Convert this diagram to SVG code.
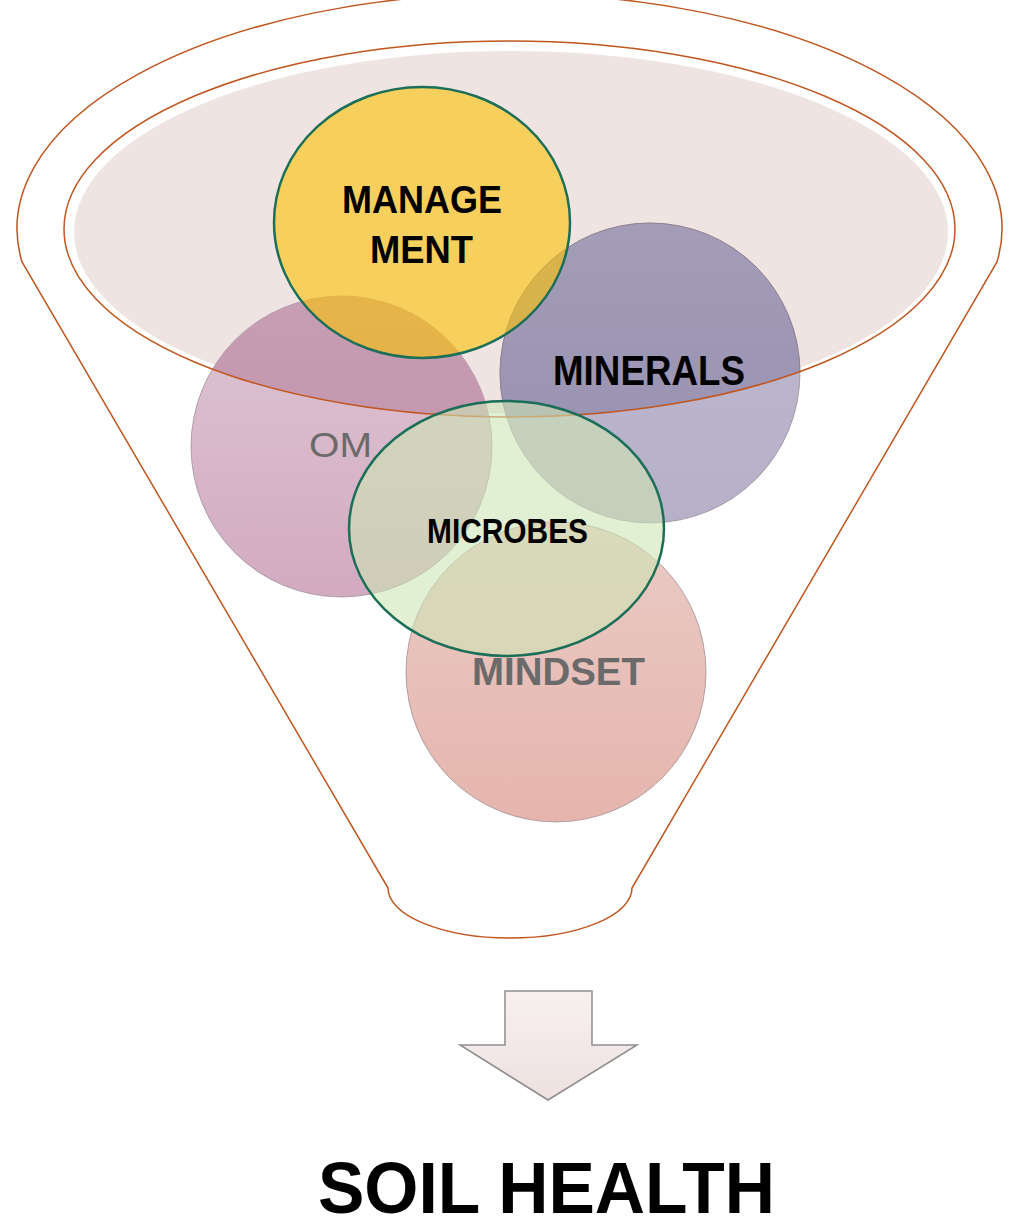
<svg xmlns="http://www.w3.org/2000/svg" width="1011" height="1230" viewBox="0 0 1011 1230">
  <style>
    .outline { fill: none; stroke: #c1561f; stroke-width: 1.5; }
    .soft { stroke: #7d6d78; stroke-opacity: 0.55; stroke-width: 1; }
    .ring { stroke: #1b6e57; stroke-width: 2.5; }
    .lbl { font-family: "Liberation Sans", Arial, sans-serif; text-anchor: middle; }
    .b { font-weight: bold; fill: #000; }
    .grey { fill: #6a6a6a; }
  </style>
  <defs>
    <!-- rim of the funnel mouth, used to tint the parts of the discs that sit inside it -->
    <clipPath id="mouth">
      <ellipse cx="509.5" cy="229" rx="445.5" ry="188"/>
    </clipPath>
    <linearGradient id="omOut" x1="0" y1="0" x2="0" y2="1">
      <stop offset="0" stop-color="#ddc6d3"/>
      <stop offset="1" stop-color="#d3aac0"/>
    </linearGradient>
    <linearGradient id="omIn" x1="0" y1="0" x2="0" y2="1">
      <stop offset="0" stop-color="#c79eb3"/>
      <stop offset="1" stop-color="#bf8ea6"/>
    </linearGradient>
    <linearGradient id="minOut" x1="0" y1="0" x2="0" y2="1">
      <stop offset="0" stop-color="#bfbad0"/>
      <stop offset="1" stop-color="#b6b0c8"/>
    </linearGradient>
    <linearGradient id="minIn" x1="0" y1="0" x2="0" y2="1">
      <stop offset="0" stop-color="#a49db8"/>
      <stop offset="1" stop-color="#958eaf"/>
    </linearGradient>
    <linearGradient id="mindFill" x1="0" y1="0" x2="0" y2="1">
      <stop offset="0" stop-color="#eacbc5"/>
      <stop offset="1" stop-color="#e5b5ad"/>
    </linearGradient>
    <linearGradient id="arrowFill" x1="0" y1="0" x2="0" y2="1">
      <stop offset="0" stop-color="#f8f0f0"/>
      <stop offset="1" stop-color="#eee1e0"/>
    </linearGradient>
  </defs>

  <!-- funnel body -->
  <g id="funnel">
    <ellipse cx="511" cy="232" rx="437" ry="181" fill="#f0e4e3"/>
  </g>

  <!-- discs behind the funnel rim -->
  <g id="node-om">
    <circle cx="341.5" cy="446.5" r="150.5" fill="url(#omOut)" class="soft"/>
    <circle cx="341.5" cy="446.5" r="150.5" fill="url(#omIn)" clip-path="url(#mouth)"/>
  </g>
  <g id="node-minerals">
    <circle cx="650" cy="373" r="150" fill="url(#minOut)" class="soft"/>
    <circle cx="650" cy="373" r="150" fill="url(#minIn)" class="soft" clip-path="url(#mouth)"/>
  </g>
  <g id="node-mindset">
    <circle cx="556" cy="672" r="150" fill="url(#mindFill)" class="soft"/>
  </g>

  <!-- funnel outlines -->
  <g id="funnel-outline">
    <ellipse cx="509.5" cy="229" rx="445.5" ry="188" class="outline"/>
    <path class="outline" d="M 388 888 L 22 262 A 492.5 235 0 1 1 997 262 L 632 888 A 122 50 0 0 1 388 888 Z"/>
  </g>

  <!-- translucent discs in front -->
  <g id="node-management">
    <ellipse cx="422" cy="222.5" rx="148" ry="135.5" fill="#fac10a" fill-opacity="0.62" class="ring"/>
  </g>
  <g id="node-microbes">
    <ellipse cx="506.5" cy="528.5" rx="157.5" ry="127.5" fill="#cde4b4" fill-opacity="0.6" class="ring"/>
  </g>

  <!-- labels -->
  <g id="labels">
    <text class="lbl b" x="422" y="213" font-size="39" textLength="160" lengthAdjust="spacingAndGlyphs">MANAGE</text>
    <text class="lbl b" x="421.5" y="263" font-size="39" textLength="103" lengthAdjust="spacingAndGlyphs">MENT</text>
    <text class="lbl b" x="649" y="385" font-size="42" textLength="192" lengthAdjust="spacingAndGlyphs">MINERALS</text>
    <text class="lbl grey" x="340.5" y="457" font-size="35" textLength="63" lengthAdjust="spacingAndGlyphs">OM</text>
    <text class="lbl b" x="507.5" y="543" font-size="35" textLength="161" lengthAdjust="spacingAndGlyphs">MICROBES</text>
    <text class="lbl grey" x="558.5" y="685" font-size="39" font-weight="bold" textLength="173" lengthAdjust="spacingAndGlyphs">MINDSET</text>
  </g>

  <!-- downward block arrow -->
  <g id="connectors">
    <path d="M 505 991 L 592 991 L 592 1045 L 637 1045 L 548 1100 L 460 1045 L 505 1045 Z" fill="url(#arrowFill)" stroke="#8e8e8e" stroke-width="1.5" stroke-linejoin="miter"/>
  </g>

  <g id="node-soil-health">
    <text class="lbl b" x="546.5" y="1213" font-size="72" textLength="457" lengthAdjust="spacingAndGlyphs">SOIL HEALTH</text>
  </g>
</svg>
